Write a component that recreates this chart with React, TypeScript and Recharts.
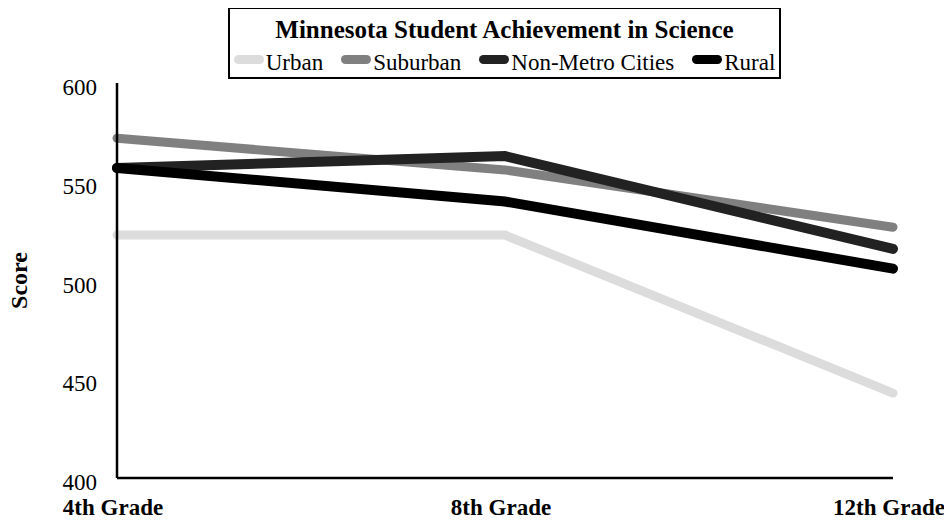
import { Line, LineChart, XAxis, YAxis } from "recharts";

const grades = ["4th Grade", "8th Grade", "12th Grade"];
const urban = [523, 523, 443];
const suburban = [572, 556, 527];
const nonMetro = [557, 563, 516];
const rural = [557, 540, 506];
const scoreTicks = [400, 450, 500, 550, 600];

const serif = '"Liberation Serif", "Times New Roman", Times, "DejaVu Serif", "Noto Serif", serif';

const series = [
  { key: "urban", name: "Urban", color: "#dcdcdc", width: 9 },
  { key: "suburban", name: "Suburban", color: "#808080", width: 9 },
  { key: "nonMetro", name: "Non-Metro Cities", color: "#222222", width: 10 },
  { key: "rural", name: "Rural", color: "#000000", width: 10 }
];

const data = grades.map((grade, i) => ({
  grade,
  urban: urban[i],
  suburban: suburban[i],
  nonMetro: nonMetro[i],
  rural: rural[i]
}));

function GradeTick({ x, y, payload }: any) {
  return (
    <text x={x - 4} y={y + 37} textAnchor="middle" style={{ fontFamily: serif }} fontSize={23} fontWeight="bold" fill="#000">
      {payload.value}
    </text>
  );
}

function ScoreTick({ x, y, payload }: any) {
  return (
    <text x={x - 20} y={y + 12} textAnchor="end" style={{ fontFamily: serif }} fontSize={23} fill="#000">
      {payload.value}
    </text>
  );
}

function TitleBox() {
  return (
    <div
      style={{
        position: "absolute",
        left: 228,
        top: 7,
        width: 553,
        height: 72,
        boxSizing: "border-box",
        border: "2px solid #000",
        background: "#fff",
        fontFamily: serif,
        color: "#000"
      }}
    >
      <div style={{ textAlign: "center", fontWeight: "bold", fontSize: 25, lineHeight: "26px", marginTop: 8 }}>
        Minnesota Student Achievement in Science
      </div>
      <div style={{ display: "flex", justifyContent: "center", fontSize: 23, lineHeight: "26px", marginTop: 7 }}>
        {series.map((s, i) => (
          <div key={s.key} style={{ display: "flex", alignItems: "center", marginLeft: i === 0 ? 0 : 18 }}>
            <span
              style={{
                display: "inline-block",
                width: 30,
                height: 9,
                borderRadius: 5,
                background: s.color,
                marginRight: 2,
                transform: "translateY(-4px)"
              }}
            />
            <span>{s.name}</span>
          </div>
        ))}
      </div>
    </div>
  );
}

export default function App() {
  return (
    <div style={{ position: "relative", width: 952, height: 523, margin: -8, background: "#fff", fontFamily: serif }}>
      <LineChart width={952} height={523} data={data} margin={{ top: 83, right: 59, bottom: 0, left: 0 }}>
        <XAxis
          dataKey="grade"
          interval={0}
          height={45}
          tickSize={0}
          tickMargin={0}
          tickLine={false}
          axisLine={{ stroke: "#000", strokeWidth: 2.5 }}
          tick={<GradeTick />}
        />
        <XAxis
          xAxisId="top"
          dataKey="grade"
          orientation="top"
          height={0}
          tick={false}
          tickLine={false}
          axisLine={{ stroke: "#000", strokeWidth: 2.5 }}
        />
        <YAxis
          domain={[400, 600]}
          ticks={scoreTicks}
          width={117}
          tickSize={0}
          tickMargin={0}
          tickLine={false}
          axisLine={{ stroke: "#000", strokeWidth: 2.5 }}
          tick={<ScoreTick />}
          label={{
            value: "Score",
            angle: -90,
            position: "insideLeft",
            offset: 18,
            style: { textAnchor: "middle", fontFamily: serif, fontSize: 24, fontWeight: "bold", fill: "#000" }
          }}
        />
        <YAxis
          yAxisId="right"
          orientation="right"
          domain={[400, 600]}
          width={0}
          tick={false}
          tickLine={false}
          axisLine={{ stroke: "#000", strokeWidth: 2.5 }}
        />
        {series.map((s) => (
          <Line
            key={s.key}
            dataKey={s.key}
            name={s.name}
            type="linear"
            stroke={s.color}
            strokeWidth={s.width}
            strokeLinecap="round"
            dot={false}
            activeDot={false}
            isAnimationActive={false}
          />
        ))}
      </LineChart>
      <TitleBox />
    </div>
  );
}
